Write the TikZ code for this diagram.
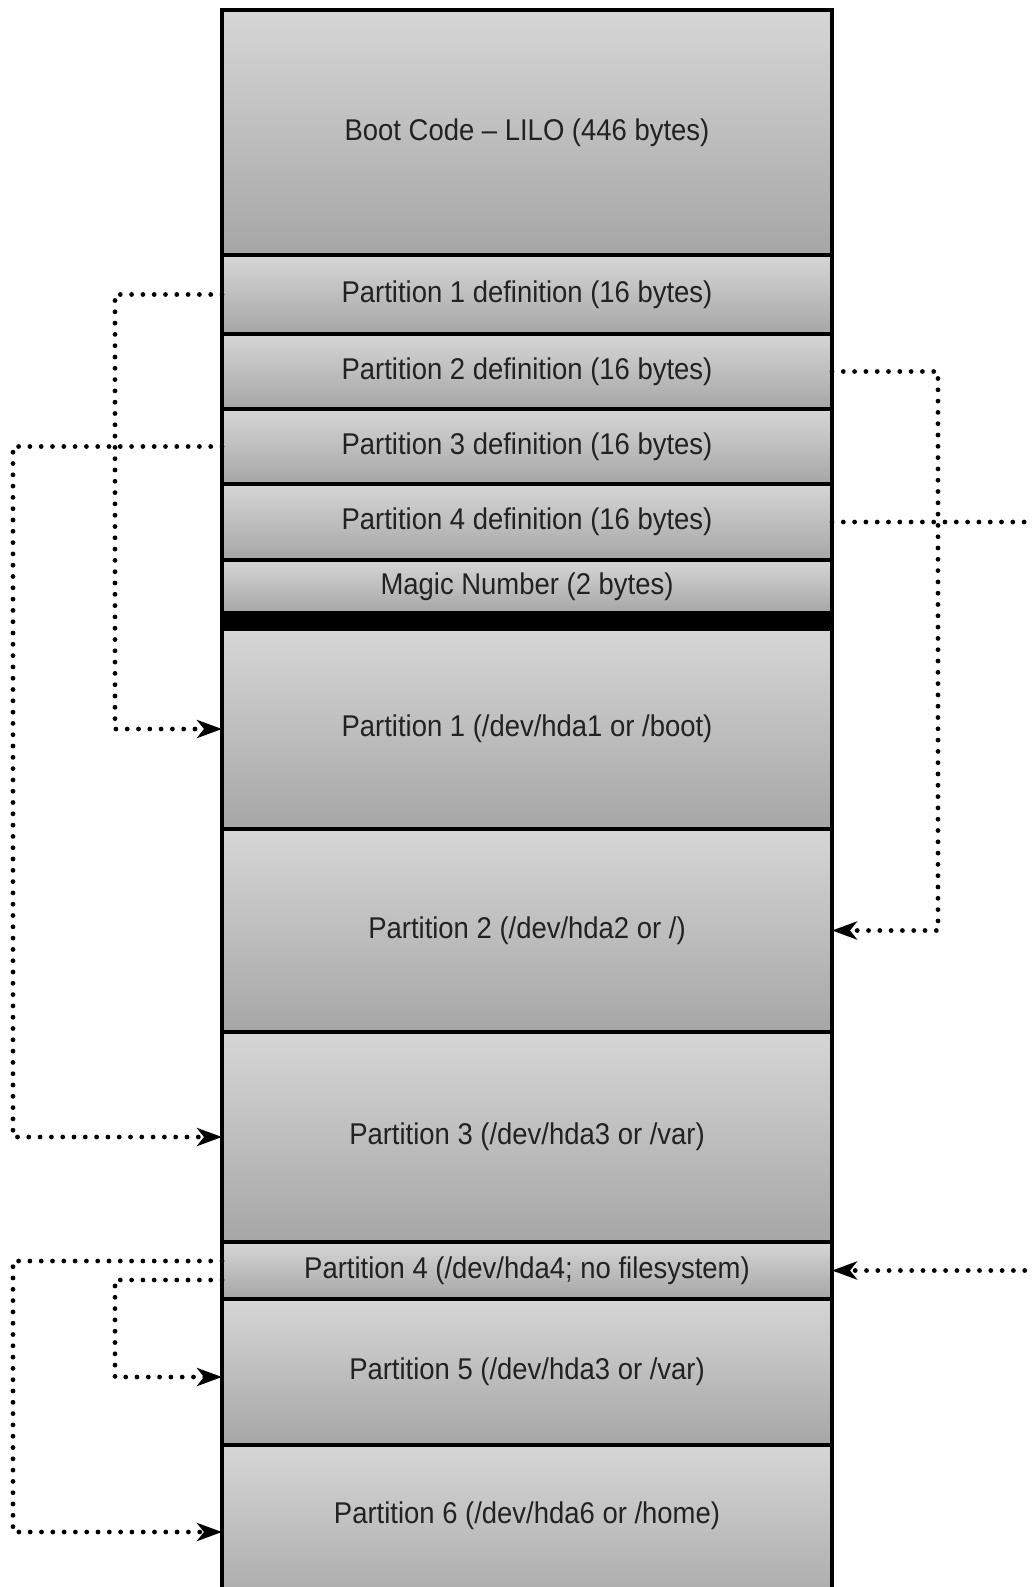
\documentclass[tikz,border=0pt]{standalone}
\usepackage{fontspec}
\setmainfont[FakeStretch=0.915]{Liberation Sans}
\usepackage{tikz}
\usetikzlibrary{arrows.meta}
\usetikzlibrary{calc}

\definecolor{celltop}{RGB}{214,214,214}
\definecolor{cellbot}{RGB}{166,166,166}
\definecolor{celltext}{RGB}{34,34,34}

\tikzset{
    cell/.style={draw=black, line width=4pt, rectangle, inner sep=0pt, outer sep=0pt,
        minimum width=610pt, top color=celltop, bottom color=cellbot,
        text=celltext, font=\fontsize{30}{35}\selectfont},
    link/.style={line width=4.8pt, line cap=round, dash pattern=on 0pt off 11.3pt},
    tip/.style={-{Stealth[length=25pt,width=18pt,inset=7pt]}}
}

\begin{document}
\begin{tikzpicture}[x=1pt,y=-1pt]
        \useasboundingbox (0,0) rectangle (1033,1587);

        \coordinate (laneL) at (115,0);
        \coordinate (laneLL) at (13,0);
        \coordinate (laneR) at (938,0);
        \coordinate (edgeR) at (1036,0);

        \node[cell, minimum height=245pt] (boot) at (527,132.5) {Boot Code -- LILO (446 bytes)};
        \node[cell, minimum height=79pt] (pdef1) at (527,294.5) {Partition 1 definition (16 bytes)};
        \node[cell, minimum height=75pt] (pdef2) at (527,371.5) {Partition 2 definition (16 bytes)};
        \node[cell, minimum height=75pt] (pdef3) at (527,446.5) {Partition 3 definition (16 bytes)};
        \node[cell, minimum height=76pt] (pdef4) at (527,522) {Partition 4 definition (16 bytes)};
        \node[cell, minimum height=53pt] (magic) at (527,586.5) {Magic Number (2 bytes)};
        \node[cell, minimum height=16pt, fill=black, top color=black, bottom color=black] (band) at (527,621) {};
        \node[cell, minimum height=200pt] (part1) at (527,729) {Partition 1 (/dev/hda1 or /boot)};
        \node[cell, minimum height=203pt] (part2) at (527,930.5) {Partition 2 (/dev/hda2 or /)};
        \node[cell, minimum height=210pt] (part3) at (527,1137) {Partition 3 (/dev/hda3 or /var)};
        \node[cell, minimum height=57pt] (part4) at (527,1270.5) {Partition 4 (/dev/hda4; no filesystem)};
        \node[cell, minimum height=146pt] (part5) at (527,1372) {Partition 5 (/dev/hda3 or /var)};
        \node[cell, minimum height=174pt] (part6) at (527,1532) {};
        \node[text=celltext, font=\fontsize{30}{35}\selectfont] (part6lbl) at (527,1516) {Partition 6 (/dev/hda6 or /home)};

        \draw[link, tip] (pdef1.west) -- (pdef1.west -| laneL) |- (part1.west);
        \draw[link, tip] (pdef3.west) -- (pdef3.west -| laneLL) |- (part3.west);
        \draw[link, tip] (pdef2.east) -- (pdef2.east -| laneR) |- (part2.east);
        \draw[link] (pdef4.east) -- (pdef4.east -| edgeR);
        \draw[link, tip] (part4.east -| edgeR) -- (part4.east);

        \draw[link, tip] ([yshift=9.5pt]part4.west) -- ([yshift=9.5pt]part4.west -| laneLL) |- (part6.west);
        \draw[link, tip] ([yshift=-9.5pt]part4.west) -- ([yshift=-9.5pt]part4.west -| laneL) |- ([yshift=-5pt]part5.west);

    \end{tikzpicture}
\end{document}
